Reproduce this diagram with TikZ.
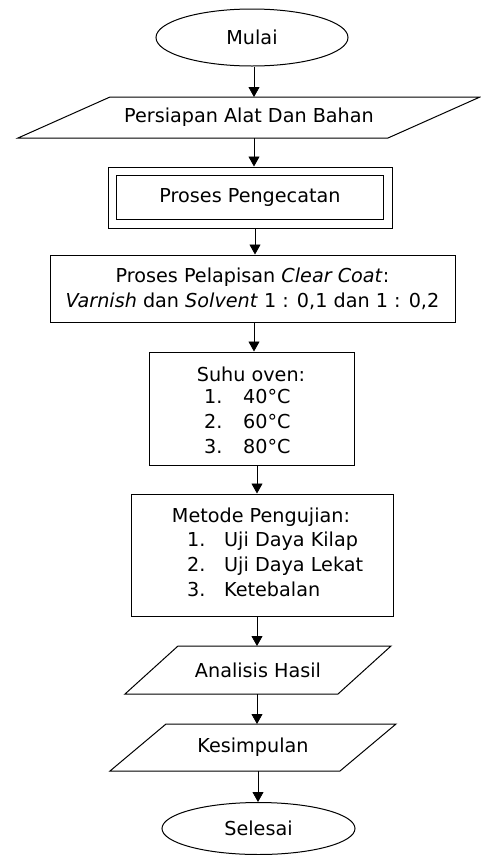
\documentclass[tikz,border=0pt]{standalone}
\usepackage{fontspec}
\setmainfont{DejaVu Sans}
\usetikzlibrary{shapes.geometric,arrows.meta}
\newcommand\iobox[2]{\draw[shapeline] ([xshift=#2]#1.north west) -- ([xshift=#2]#1.north east) -- ([xshift=-#2]#1.south east) -- ([xshift=-#2]#1.south west) -- cycle;}
\begin{document}
\begin{tikzpicture}[x=1pt,y=-1pt,
  font=\fontsize{19.2}{24.7}\selectfont,
  shapeline/.style={line width=1pt},
  term/.style={ellipse,draw,line width=1pt,inner sep=0pt},
  iotext/.style={rectangle,draw=none,inner sep=0pt,outer sep=0pt},
  box/.style={rectangle,draw,line width=1pt,inner sep=0pt,align=center},
  dblbox/.style={rectangle,draw,double,double distance=7.5pt,line width=1pt,inner sep=0pt,outer sep=4.75pt},
  txt/.style={inner sep=0pt},
  arr/.style={-{Triangle[length=10pt,width=11pt]},line width=0.8pt}]
\useasboundingbox (0,0) rectangle (481,855);

\node[term,minimum width=192pt,minimum height=57pt] (mulai) at (252,37.5) {Mulai};

\node[iotext,minimum width=370pt,minimum height=41pt] (persiapan) at (249,117.5) {Persiapan Alat Dan Bahan};
\iobox{persiapan}{46}

\node[dblbox,minimum width=275.5pt,minimum height=52.5pt] (cat) at (250,197.5) {Proses Pengecatan};

\node[box,minimum width=405pt,minimum height=67pt] (clear) at (252.5,288.5)
  {Proses Pelapisan \textit{Clear Coat}:\\\textit{Varnish} dan \textit{Solvent} 1 : 0,1 dan 1 : 0,2};

\node[box,minimum width=205pt,minimum height=113pt] (suhu) at (251.5,408.5) {};
\node[txt] (suhuT) at (251,374) {Suhu oven:};
\node[txt,anchor=west] (suhuL) at (204,423.5)
  {\begin{tabular}{@{}p{39pt}@{}l@{}}1.&40°C\\2.&60°C\\3.&80°C\end{tabular}};

\node[box,minimum width=262pt,minimum height=122pt] (metode) at (262,555) {};
\node[txt] (metodeT) at (261,517) {Metode Pengujian:};
\node[txt,anchor=west] (metodeL) at (187,566.5)
  {\begin{tabular}{@{}p{37pt}@{}l@{}}1.&Uji Daya Kilap\\2.&Uji Daya Lekat\\3.&Ketebalan\end{tabular}};

\node[iotext,minimum width=213pt,minimum height=48pt] (analisis) at (258,670) {Analisis Hasil};
\iobox{analisis}{26.5}

\node[iotext,minimum width=230pt,minimum height=47pt] (kesimpulan) at (253,747.5) {Kesimpulan};
\iobox{kesimpulan}{28}

\node[term,minimum width=193pt,minimum height=52pt] (selesai) at (258.5,828.5) {Selesai};

\draw[arr] (mulai.south -| 254,0) -- (persiapan.north -| 254,0);
\draw[arr] (persiapan.south -| 254,0) -- (cat.north -| 254,0);
\draw[arr] (cat.south -| 255,0) -- (clear.north -| 255,0);
\draw[arr] (clear.south -| 254,0) -- (suhu.north -| 254,0);
\draw[arr] (suhu.south -| 257,0) -- (metode.north -| 257,0);
\draw[arr] (metode.south -| 257,0) -- (analisis.north -| 257,0);
\draw[arr] (analisis.south -| 257,0) -- (kesimpulan.north -| 257,0);
\draw[arr] (kesimpulan.south -| 258,0) -- (selesai.north -| 258,0);
\end{tikzpicture}
\end{document}
